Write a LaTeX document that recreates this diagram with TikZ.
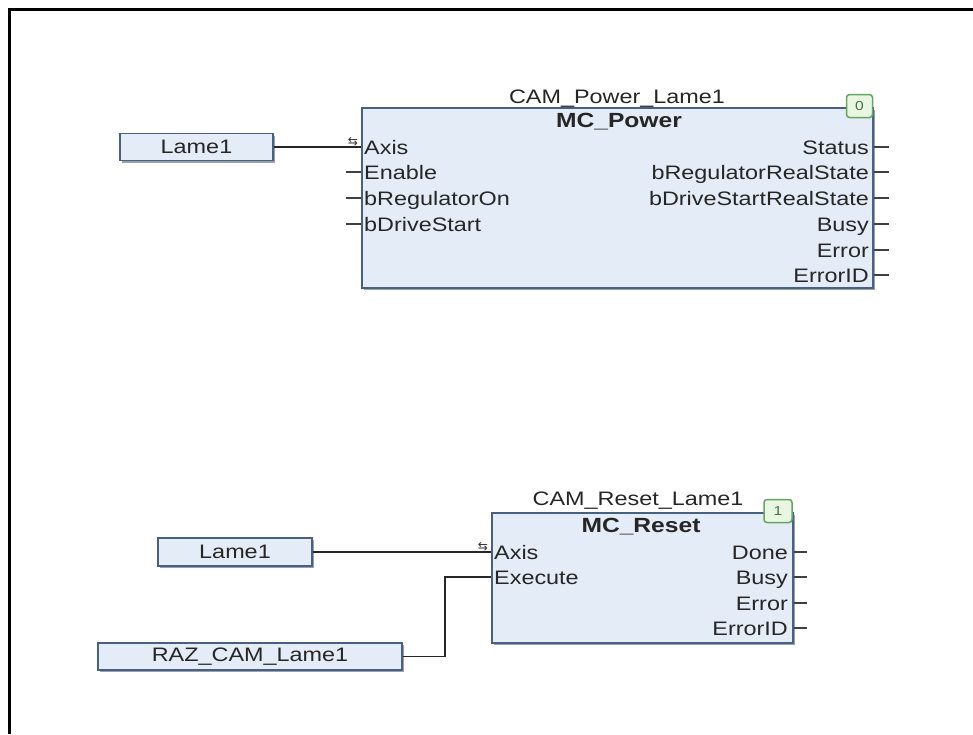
\documentclass[tikz,border=0pt]{standalone}
\usepackage{fontspec}
\setmainfont{Liberation Sans}[FakeStretch=1.2]
\newfontfamily\symfont{DejaVu Sans}
\usetikzlibrary{shadows}
\definecolor{bfill}{RGB}{228,236,248}
\definecolor{bdraw}{RGB}{72,96,130}
\definecolor{txt}{RGB}{38,38,38}
\definecolor{gfill}{RGB}{232,246,226}
\definecolor{gdraw}{RGB}{100,165,95}
\begin{document}
\begin{tikzpicture}[x=1pt,y=-1pt,
  every node/.style={text=txt, font=\fontsize{19.5}{22}\selectfont},
  fblock/.style={draw=bdraw, line width=1.6pt, fill=bfill, inner sep=0pt,
    drop shadow={shadow xshift=2pt, shadow yshift=-2pt, fill=bdraw!70!black, opacity=0.5}},
  varbox/.style={fblock},
  pinin/.style={anchor=west, inner sep=0pt, text height=14pt, text depth=0pt},
  pinout/.style={anchor=east, inner sep=0pt, text height=14pt, text depth=0pt},
  ttl/.style={inner sep=0pt, text height=14pt, text depth=0pt},
  ttlb/.style={ttl, font=\bfseries\fontsize{20.5}{22}\selectfont},
  badge/.style={draw=gdraw, fill=gfill, line width=1.5pt, rounded corners=3pt, inner sep=0pt,
    text=gdraw!70!black, font=\fontsize{13}{14}\selectfont},
  wire/.style={draw=black!85, line width=1.4pt},
  stub/.style={draw=black!75, line width=1.3pt},
  sym/.style={inner sep=0pt, font=\symfont\fontsize{12}{12}\selectfont, text=black!80}
]
\useasboundingbox (0,0) rectangle (973,734);
\draw[line width=3pt] (9.5,734) -- (9.5,9) -- (973,9);

% ---------- MC_Power block ----------
\node[fblock, minimum width=511pt, minimum height=180pt] (pw) at (617.5,198) {};
\node[ttl] (pwinst) at (617,96) {CAM\_Power\_Lame1};
\node[ttlb] (pwtype) at (619,120) {MC\_Power};
\node[badge, minimum width=26pt, minimum height=23pt] (pwbadge) at (859.5,106) {0};

\node[pinin] (pwaxis) at (364,147) {Axis};
\node[pinin] (pwen)   at (364,172) {Enable};
\node[pinin] (pwreg)  at (364,198) {bRegulatorOn};
\node[pinin] (pwdrv)  at (364,224) {bDriveStart};

\node[pinout] (pwst)   at (869,147) {Status};
\node[pinout] (pwrrs)  at (869,172) {bRegulatorRealState};
\node[pinout] (pwdrs)  at (869,198) {bDriveStartRealState};
\node[pinout] (pwbusy) at (869,224) {Busy};
\node[pinout] (pwerr)  at (869,250) {Error};
\node[pinout] (pwerid) at (869,275) {ErrorID};

\foreach \n in {pwen,pwreg,pwdrv} \draw[stub] (pw.west |- \n.west) -- ++(-15,0);
\foreach \n in {pwst,pwrrs,pwdrs,pwbusy,pwerr,pwerid} \draw[stub] (pw.east |- \n.east) -- ++(15,0);

\node[varbox, minimum width=153pt, minimum height=27pt] (v1) at (196.5,147) {Lame1};
\draw[wire] (v1.east) -- (v1.east -| pw.west);
\node[sym] (pwsym) at (353,142) {⇆};

% ---------- MC_Reset block ----------
\node[fblock, minimum width=301pt, minimum height=130pt] (rs) at (642.5,578) {};
\node[ttl] (rsinst) at (638,498.5) {CAM\_Reset\_Lame1};
\node[ttlb] (rstype) at (641,525) {MC\_Reset};
\node[badge, minimum width=28pt, minimum height=23pt] (rsbadge) at (778,511) {1};

\node[pinin] (rsaxis) at (494,552) {Axis};
\node[pinin] (rsexec) at (494,577) {Execute};

\node[pinout] (rsdone) at (788,552) {Done};
\node[pinout] (rsbusy) at (788,577) {Busy};
\node[pinout] (rserr)  at (788,603) {Error};
\node[pinout] (rserid) at (788,628) {ErrorID};

\foreach \n in {rsdone,rsbusy,rserr,rserid} \draw[stub] (rs.east |- \n.east) -- ++(13,0);

\node[varbox, minimum width=154pt, minimum height=28pt] (v2) at (235,552) {Lame1};
\draw[wire] (v2.east) -- (v2.east -| rs.west);
\node[sym] (rssym) at (483,547) {⇆};

\node[varbox, minimum width=304pt, minimum height=27pt] (v3) at (250,656.5) {RAZ\_CAM\_Lame1};
\coordinate (bend) at (445,577);
\draw[wire] (v3.east) -| (bend) -- (rs.west |- rsexec.west);
\end{tikzpicture}
\end{document}
